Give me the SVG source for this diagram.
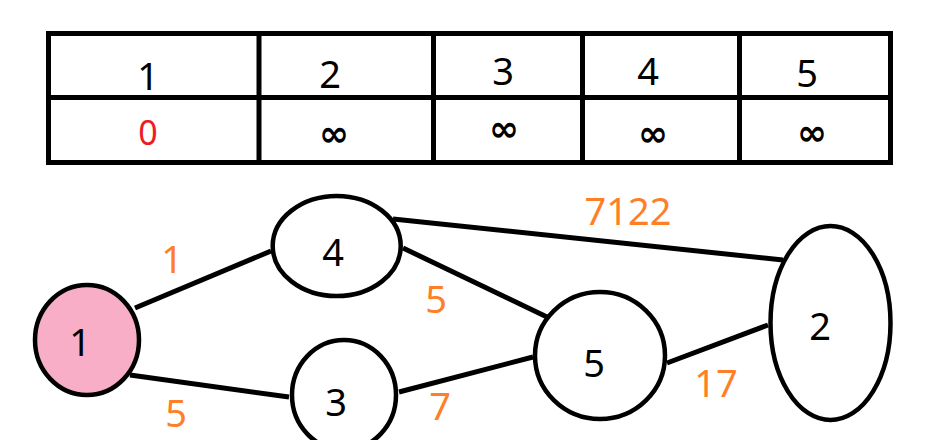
<svg xmlns="http://www.w3.org/2000/svg" width="940" height="440" viewBox="0 0 940 440">
<style>
.ln{stroke:#000;stroke-width:5;fill:none}
.nd{stroke:#000;stroke-width:4.5;fill:#fff}
.t{font-family:"Noto Sans","Open Sans","DejaVu Sans",sans-serif;font-size:38px;text-anchor:middle;fill:#000}
.r{font-size:34px;fill:#ED1C24}
.inf{font-family:"DejaVu Sans",sans-serif;font-size:36px;font-weight:bold}
.w{font-family:"Noto Sans","Open Sans","DejaVu Sans",sans-serif;font-size:38px;text-anchor:middle;fill:#FF7F27}
</style>
<rect width="940" height="440" fill="#fff"/>
<g id="table">
<rect class="ln" x="48.5" y="33.5" width="842" height="129"/>
<line class="ln" x1="48.5" y1="97.5" x2="890.5" y2="97.5"/>
<line class="ln" x1="259" y1="33.5" x2="259" y2="162.5"/>
<line class="ln" x1="433.5" y1="33.5" x2="433.5" y2="162.5"/>
<line class="ln" x1="582.5" y1="33.5" x2="582.5" y2="162.5"/>
<line class="ln" x1="739.5" y1="33.5" x2="739.5" y2="162.5"/>
<text class="t" x="148" y="90">1</text>
<text class="t" x="330" y="88">2</text>
<text class="t" x="503" y="85">3</text>
<text class="t" x="648" y="85">4</text>
<text class="t" x="807" y="87">5</text>
<text class="t r" x="148" y="145">0</text>
<text class="t inf" x="334" y="146">∞</text>
<text class="t inf" x="504" y="141">∞</text>
<text class="t inf" x="653" y="146">∞</text>
<text class="t inf" x="812" y="145">∞</text>
</g>
<g id="edges">
<line class="ln" x1="135" y1="308" x2="271" y2="251"/>
<line class="ln" x1="130" y1="375" x2="289" y2="397"/>
<line class="ln" x1="393" y1="219" x2="783" y2="260"/>
<line class="ln" x1="403" y1="248" x2="547" y2="317"/>
<line class="ln" x1="399" y1="392" x2="533" y2="357"/>
<line class="ln" x1="667" y1="363" x2="768" y2="325"/>
<text class="w" x="172" y="273">1</text>
<text class="w" x="176" y="427">5</text>
<text class="w" x="436" y="313">5</text>
<text class="w" x="440" y="420">7</text>
<text class="w" x="628" y="225">7122</text>
<text class="w" x="716" y="397">17</text>
</g>
<g id="node1">
<ellipse class="nd" cx="87" cy="340" rx="52" ry="55" style="fill:#F9AEC8"/>
<text class="t" x="80" y="356">1</text>
</g>
<g id="node4">
<ellipse class="nd" cx="336.7" cy="246" rx="64" ry="50"/>
<text class="t" x="333" y="266">4</text>
</g>
<g id="node3">
<ellipse class="nd" cx="344" cy="395" rx="52" ry="55"/>
<text class="t" x="336" y="416">3</text>
</g>
<g id="node5">
<ellipse class="nd" cx="600" cy="355.5" rx="65" ry="63.5"/>
<text class="t" x="594" y="377">5</text>
</g>
<g id="node2">
<ellipse class="nd" cx="830.5" cy="323" rx="60" ry="97"/>
<text class="t" x="820" y="340">2</text>
</g>
</svg>
